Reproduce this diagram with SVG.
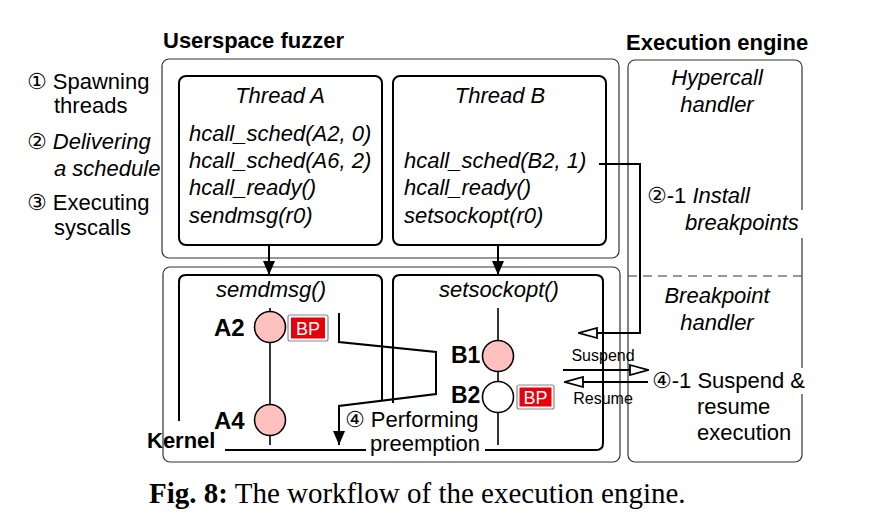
<svg xmlns="http://www.w3.org/2000/svg" width="871" height="522" viewBox="0 0 871 522">
<style>
text{font-family:"Liberation Sans","DejaVu Sans",Arial,sans-serif;fill:#000}
.t{font-size:22px}
.i{font-style:italic}
.b{font-weight:bold}
.c{text-anchor:middle}
.outer{fill:none;stroke:#333;stroke-width:1.2}
.inner{fill:none;stroke:#000;stroke-width:2}
.ln{fill:none;stroke:#000;stroke-width:2}
.node{fill:#ffc0c0;stroke:#000;stroke-width:1.6}
.bpo{fill:#fff;stroke:#888;stroke-width:1.2}
.bpi{fill:#e8000b}
.bpt{font-size:18px;fill:#fff;text-anchor:middle}
.sm{font-size:16px}
.cap{font-family:"Liberation Serif","Times New Roman",serif;font-size:29px}
</style>
<defs>
<marker id="fa" viewBox="0 0 14 12" refX="14" refY="6" markerWidth="14" markerHeight="12" markerUnits="userSpaceOnUse" orient="auto"><path d="M0,0 L14,6 L0,12 Z" fill="#000"/></marker>
<marker id="oa" viewBox="0 0 20 12" refX="19" refY="6" markerWidth="20" markerHeight="12" markerUnits="userSpaceOnUse" orient="auto"><path d="M1,1 L19,6 L1,11 Z" fill="#fff" stroke="#000" stroke-width="1.8"/></marker>
</defs>
<rect width="871" height="522" fill="#fff"/>

<g id="titles">
<text class="t b" x="163" y="48">Userspace fuzzer</text>
<text class="t b" x="626" y="50">Execution engine</text>
</g>

<g id="steps">
<text class="t" x="27" y="89">① Spawning</text>
<text class="t" x="54" y="113">threads</text>
<text class="t" x="27" y="149">② <tspan class="i">Delivering</tspan></text>
<text class="t i" x="54" y="176">a schedule</text>
<text class="t" x="27" y="210">③ Executing</text>
<text class="t" x="54" y="235">syscalls</text>
</g>

<g id="userspace">
<rect class="outer" x="162" y="59" width="457" height="199" rx="7"/>
</g>
<g id="kernel">
<rect class="outer" x="163" y="267" width="457" height="195" rx="7"/>
<text class="t b" x="147" y="448">Kernel</text>
</g>
<g id="engine">
<rect class="outer" x="628" y="60" width="174" height="402" rx="7"/>
<line x1="628" y1="276" x2="802" y2="276" stroke="#333" stroke-width="1.2" stroke-dasharray="9,6"/>
</g>

<g id="threadA">
<rect class="inner" x="179" y="76" width="203" height="169" rx="7"/>
<text class="t i c" x="280" y="103">Thread A</text>
<text class="t i" x="189" y="141">hcall_sched(A2, 0)</text>
<text class="t i" x="189" y="168">hcall_sched(A6, 2)</text>
<text class="t i" x="189" y="195">hcall_ready()</text>
<text class="t i" x="189" y="223">sendmsg(r0)</text>
</g>

<g id="threadB">
<rect class="inner" x="393" y="76" width="213" height="169" rx="7"/>
<text class="t i c" x="500" y="103">Thread B</text>
<text class="t i" x="404" y="168">hcall_sched(B2, 1)</text>
<text class="t i" x="404" y="195">hcall_ready()</text>
<text class="t i" x="404" y="223">setsockopt(r0)</text>
</g>

<g id="hypercall">
<text class="t i c" x="717" y="85">Hypercall</text>
<text class="t i c" x="717" y="112">handler</text>
</g>
<g id="bphandler">
<text class="t i c" x="717" y="303">Breakpoint</text>
<text class="t i c" x="717" y="330">handler</text>
</g>

<g id="sendmsgBox">
<path class="inner" d="M179,421 V282 Q179,275 186,275 H375 Q382,275 382,282 V400"/>
<text class="t i c" x="271" y="297">semdmsg()</text>
</g>
<g id="setsockoptBox">
<path class="inner" d="M393,403 V282 Q393,275 400,275 H596 Q603,275 603,282 V443 Q603,450 596,450 H485"/>
<text class="t i c" x="499" y="297">setsockopt()</text>
</g>
<line class="ln" x1="225" y1="450" x2="366" y2="450"/>

<g id="lineA">
<line x1="270" y1="308" x2="270" y2="445" stroke="#000" stroke-width="1.6"/>
</g>
<g id="lineB">
<line x1="498" y1="308" x2="498" y2="445" stroke="#000" stroke-width="1.6"/>
</g>

<g id="A2">
<circle class="node" cx="270" cy="327" r="15.5"/>
<text class="b" font-size="24" x="214" y="336">A2</text>
<rect class="bpo" x="288" y="315" width="40" height="26" rx="2"/>
<rect class="bpi" x="291" y="317.5" width="34" height="21"/>
<text class="bpt" x="308" y="335">BP</text>
</g>
<g id="A4">
<circle class="node" cx="270" cy="420" r="15.5"/>
<text class="b" font-size="24" x="214" y="429">A4</text>
</g>
<g id="B1">
<circle class="node" cx="498" cy="356" r="15.5"/>
<text class="b" font-size="23" x="451" y="363">B1</text>
</g>
<g id="B2">
<circle class="node" cx="498" cy="397" r="15.5" style="fill:#fff"/>
<text class="b" font-size="23" x="451" y="403">B2</text>
<rect class="bpo" x="517" y="385" width="37" height="24" rx="2"/>
<rect class="bpi" x="519.5" y="387.5" width="32" height="19"/>
<text class="bpt" x="535.5" y="404">BP</text>
</g>

<g id="connectors">
<line class="ln" x1="269" y1="245" x2="269" y2="275" marker-end="url(#fa)"/>
<line class="ln" x1="498" y1="245" x2="498" y2="275" marker-end="url(#fa)"/>
<path class="ln" d="M339,313 V342 L436,352 V394 L339,406 V445" marker-end="url(#fa)"/>
<path class="ln" d="M599,164 H640 V333 H579" marker-end="url(#oa)"/>
<line class="ln" x1="563" y1="370" x2="648" y2="370" marker-end="url(#oa)"/>
<line class="ln" x1="648" y1="382" x2="565" y2="382" marker-end="url(#oa)"/>
</g>

<g id="labels">
<text class="sm c" x="603" y="361">Suspend</text>
<text class="sm c" x="603" y="404">Resume</text>
<rect x="680" y="210" width="126" height="28" fill="#fff"/>
<text class="t" x="647" y="203">②-1 <tspan class="i">Install</tspan></text>
<text class="t i" x="685" y="230">breakpoints</text>
<rect x="760" y="368" width="50" height="26" fill="#fff"/>
<text class="t" x="652" y="388">④-1 Suspend &amp;</text>
<text class="t" x="697" y="414">resume</text>
<text class="t" x="697" y="440">execution</text>
<text class="t" x="345" y="427">④ Performing</text>
<text class="t" x="370" y="451">preemption</text>
</g>

<g id="caption">
<text class="cap" x="149" y="503"><tspan font-weight="bold">Fig. 8:</tspan> The workflow of the execution engine.</text>
</g>
</svg>
